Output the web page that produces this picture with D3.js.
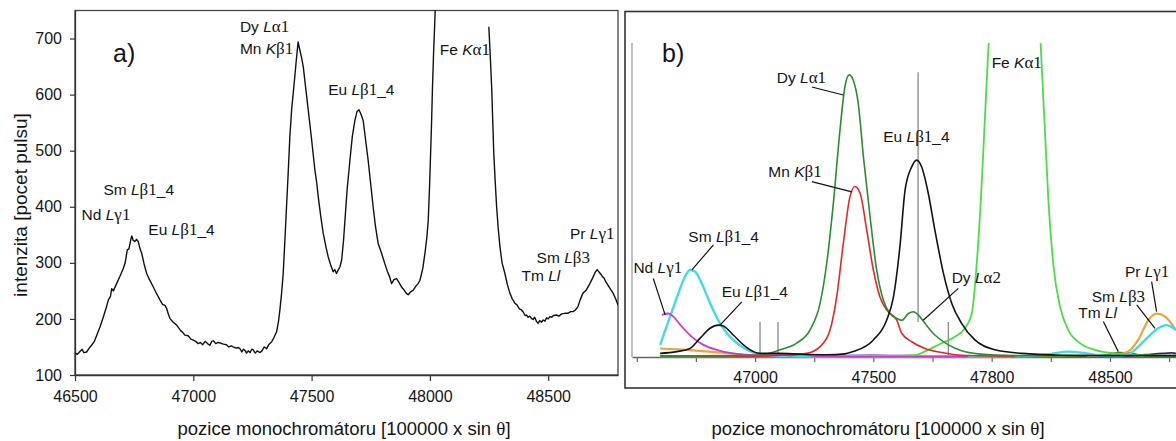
<!DOCTYPE html>
<html>
<head>
<meta charset="utf-8">
<script src="https://cdn.jsdelivr.net/npm/d3@7"></script>
<style>
  body { margin: 0; background: #fff; }
  svg { display: block; }
  text { font-family: "Liberation Sans", Arial, sans-serif; fill: #151515; white-space: pre; }
</style>
</head>
<body>
<svg id="chart" width="1176" height="441"></svg>
<script>
// ---------- Panel a: measured WDS scan (position, counts) ----------
const scanA = [
  [46500,139],[46510,137],[46521,142],[46530,146],[46537,140],[46549,141],[46560,148],[46570,153],
  [46582,160],[46592,171],[46606,186],[46620,204],[46632,220],[46641,234],[46650,240],[46655,254],
  [46662,250],[46676,263],[46690,276],[46704,290],[46712,300],[46721,323],[46728,325],[46734,338],
  [46740,348],[46746,340],[46753,338],[46760,342],[46767,338],[46775,325],[46782,317],[46792,298],
  [46803,281],[46815,270],[46831,257],[46845,245],[46859,234],[46870,226],[46880,224],[46887,219],
  [46895,208],[46901,201],[46915,194],[46930,189],[46945,180],[46955,176],[46965,171],[46978,170],
  [46990,164],[47000,162],[47010,160],[47021,156],[47030,158],[47040,154],[47050,160],[47060,156],
  [47070,153],[47078,160],[47085,161],[47095,156],[47105,158],[47115,157],[47127,155],[47140,154],
  [47150,150],[47160,152],[47169,150],[47180,148],[47190,149],[47197,147],[47205,141],[47212,146],
  [47220,143],[47225,139],[47232,143],[47240,140],[47247,146],[47253,145],[47262,139],[47270,143],
  [47282,140],[47290,143],[47300,150],[47310,147],[47320,155],[47331,159],[47340,166],[47352,177],
  [47360,195],[47366,216],[47373,245],[47380,281],[47387,340],[47394,400],[47401,460],[47408,525],
  [47416,575],[47425,614],[47435,660],[47443,694],[47450,680],[47458,665],[47465,649],[47475,612],
  [47486,572],[47500,520],[47514,465],[47521,445],[47528,418],[47538,385],[47549,353],[47560,330],
  [47570,311],[47580,297],[47591,284],[47598,288],[47605,281],[47612,287],[47620,293],[47627,305],
  [47635,340],[47641,376],[47650,430],[47662,483],[47672,525],[47683,554],[47692,570],[47700,573],
  [47708,566],[47718,554],[47728,520],[47739,483],[47750,440],[47760,400],[47770,365],[47781,335],
  [47795,318],[47809,299],[47820,285],[47830,275],[47838,263],[47848,270],[47859,272],[47868,266],
  [47880,257],[47890,252],[47900,246],[47908,243],[47918,248],[47929,251],[47940,258],[47950,263],
  [47958,269],[47970,290],[47979,317],[47987,345],[47993,376],[47998,430],[48003,495],[48007,550],
  [48011,614],[48016,680],[48021,733],[48026,800],
  null,
  [48249,721],[48255,670],[48261,614],[48270,495],[48276,445],[48282,400],[48289,360],[48296,329],
  [48305,300],[48317,281],[48327,262],[48338,246],[48348,236],[48359,228],[48368,225],[48378,218],
  [48387,216],[48395,212],[48402,206],[48408,207],[48415,203],[48422,205],[48429,201],[48436,199],
  [48443,203],[48450,196],[48457,192],[48464,197],[48471,194],[48479,198],[48486,196],[48493,202],
  [48500,200],[48507,204],[48515,203],[48522,206],[48535,207],[48545,205],[48557,209],[48570,210],
  [48582,210],[48595,213],[48605,213],[48615,216],[48626,222],[48635,234],[48647,246],[48660,251],
  [48676,263],[48690,275],[48700,284],[48707,288],[48714,284],[48722,280],[48730,275],[48736,273],
  [48745,265],[48753,260],[48763,253],[48774,246],[48785,236],[48795,225]
];
const ticksAX = [46500, 47000, 47500, 48000, 48500];
const ticksAY = [100, 200, 300, 400, 500, 600, 700];

// line labels of panel a: [text, position, counts]
const labelsA = [
  ["Dy Lα1", 47197, 711], ["Mn Kβ1", 47197, 672],
  ["Sm Lβ1_4", 46620, 421], ["Nd Lγ1", 46528, 377], ["Eu Lβ1_4", 46810, 349],
  ["Eu Lβ1_4", 47570, 599], ["Fe Kα1", 48042, 670],
  ["Pr Lγ1", 48592, 342], ["Sm Lβ3", 48451, 300], ["Tm Ll", 48387, 267]
];

// ---------- Panel b: fitted line profiles (position, intensity) ----------
const smB = [[46599,27],[46641,90],[46676,142],[46704,179],[46725,194],[46747,190],[46775,164],[46810,120],
  [46852,75],[46894,45],[46944,23],[46993,10],[47049,4],[47134,2],[47400,1],[47800,1],[48150,2],[48250,7],
  [48320,12],[48390,9],[48460,3],[48530,2],[48580,6],[48605,16],[48662,45],[48704,64],[48739,71],[48779,60]];
const ndB = [[46606,94],[46634,97],[46655,90],[46690,68],[46733,45],[46782,27],[46838,16],[46908,8],
  [46993,4],[47050,4],[47092,6],[47150,3],[47190,6],[47260,2],[47400,1],[47700,1],[47900,1]];
const euB = [[46599,8],[46669,12],[46725,19],[46768,42],[46810,64],[46845,71],[46866,69],[46908,49],
  [46951,27],[46993,12],[47021,8],[47100,8],[47200,6],[47300,5],[47380,7],[47415,12],[47500,38],
  [47556,82],[47585,134],[47613,250],[47634,372],[47662,424],[47683,439],[47704,424],[47732,365],
  [47760,283],[47796,187],[47831,120],[47873,75],[47929,38],[48014,16],[48127,8],[48296,4],
  [48500,3],[48700,3],[48779,3]];
const dyB = [[46600,2],[46900,3],[47021,4],[47106,16],[47176,31],[47232,60],[47275,120],[47303,209],
  [47331,343],[47359,506],[47380,603],[47398,629],[47415,617],[47436,566],[47458,446],[47486,313],
  [47514,194],[47542,127],[47570,97],[47599,86],[47620,82],[47648,97],[47669,101],[47690,94],
  [47718,75],[47760,49],[47817,27],[47873,14],[47943,7],[48100,3],[48400,2]];
const mnB = [[46600,1],[47000,1],[47106,4],[47218,8],[47275,23],[47317,60],[47345,134],[47373,253],
  [47401,357],[47422,380],[47444,365],[47472,283],[47500,194],[47528,134],[47556,105],[47599,82],
  [47620,53],[47662,34],[47718,19],[47789,10],[47873,4],[48100,2]];
const feB = [[46600,1],[47300,1],[47591,2],[47676,4],[47732,16],[47789,31],[47845,45],[47887,64],
  [47916,97],[47937,209],[47955,357],[47969,506],[47983,655],[47998,790],[48030,900],[48100,950],
  [48170,900],[48198,790],[48211,655],[48225,506],[48239,357],[48260,209],[48289,112],[48324,60],
  [48373,31],[48436,16],[48521,8],[48634,4],[48779,3]];
const prB = [[46599,19],[46711,16],[46852,10],[46993,4],[47200,2],[48000,2],[48500,3],[48577,12],
  [48619,38],[48662,82],[48697,97],[48733,90],[48779,60]];
const tmB = [[48200,1],[48400,2],[48480,5],[48540,10],[48590,8],[48650,3],[48779,2]];
const navyB = [[46600,2],[47000,2],[47300,3],[47500,4],[47650,3],[47800,2],[48000,1]];
const yellowB = [[47500,2],[47700,3],[47850,2],[48000,1]];
const violetB = [[48500,2],[48650,5],[48720,8],[48760,9],[48779,8]];

const seriesB = [
  { data: navyB,   color: "#1f2a8c", width: 1.6 },
  { data: yellowB, color: "#e6dc2a", width: 1.6 },
  { data: violetB, color: "#4e1a6e", width: 1.8 },
  { data: tmB,     color: "#2f7f2f", width: 1.6 },
  { data: prB,     color: "#efa23a", width: 2.2 },
  { data: feB,     color: "#4cdc48", width: 1.8 },
  { data: smB,     color: "#3fdbe6", width: 2.4 },
  { data: ndB,     color: "#c83cc8", width: 1.8 },
  { data: mnB,     color: "#de2a2a", width: 1.6 },
  { data: dyB,     color: "#2c8c30", width: 1.6 },
  { data: euB,     color: "#141414", width: 1.6 }
];

const ticksBX = [46500, 46750, 47000, 47250, 47500, 47750, 48000, 48250, 48500, 48750];
const tickLabelsBX = ["", "", "47000", "", "47500", "", "47800", "", "48500", ""];
// reference line markers: [position, from, to]
const markersB = [[47021, 0, 78], [47097, 0, 78], [47689, 78, 635], [47817, 0, 78]];

// line labels of panel b: [text, x, y, leader x1, y1, x2, y2]
const labelsB = [
  ["Dy Lα1", 47092, 610, 47240, 602, 47373, 584],
  ["Mn Kβ1", 47056, 402, 47240, 391, 47409, 368],
  ["Sm Lβ1_4", 46718, 256, 46824, 250, 46733, 194],
  ["Nd Lγ1", 46486, 187, 46570, 175, 46620, 94],
  ["Eu Lβ1_4", 46859, 134, 46944, 123, 46852, 71],
  ["Eu Lβ1_4", 47542, 480, null, null, null, null],
  ["Fe Kα1", 48000, 644, null, null, null, null],
  ["Dy Lα2", 47831, 164, 47859, 153, 47711, 82],
  ["Pr Lγ1", 48563, 179, 48676, 168, 48697, 101],
  ["Sm Lβ3", 48423, 123, 48613, 116, 48690, 64],
  ["Tm Ll", 48366, 86, 48472, 79, 48535, 12]
];

const svg = d3.select("#chart");

// Spectroscopic label: element symbol, italic line letters, serif greek letter
function lineLabel(g, str, x, y, size) {
  const t = g.append("text").attr("x", x).attr("y", y).attr("font-size", size);
  const sp = str.indexOf(" ");
  t.append("tspan").text(str.slice(0, sp + 1));
  const rest = str.slice(sp + 1);
  let i = 0;
  while (i < rest.length) {
    const ch = rest[i];
    if (/[A-Za-z]/.test(ch)) {
      let j = i; while (j < rest.length && /[A-Za-z]/.test(rest[j])) j++;
      t.append("tspan").attr("font-style", "italic").text(rest.slice(i, j)); i = j;
    } else if (/[\u0370-\u03ff]/.test(ch)) {
      let j = i + 1; if (j < rest.length && /\d/.test(rest[j])) j++;
      t.append("tspan").attr("font-family", "'Liberation Serif', 'DejaVu Serif', serif")
        .attr("font-size", size * 1.1).text(rest.slice(i, j)); i = j;
    } else {
      t.append("tspan").text(rest.slice(i)); break;
    }
  }
  return t;
}

function styleAxis(g, color) {
  g.selectAll("path.domain").attr("stroke", color).attr("stroke-width", 1.3);
  g.selectAll(".tick line").attr("stroke", color).attr("stroke-width", 1.2);
  g.selectAll(".tick text").attr("font-family", "'Liberation Sans', Arial, sans-serif")
    .attr("font-size", 16).attr("fill", "#151515");
}

// ================= Panel a =================
const xA = d3.scaleLinear().domain([46500, 48795]).range([75, 618]);
const yA = d3.scaleLinear().domain([100, 750]).range([375, 10.5]);

svg.append("defs").append("clipPath").attr("id", "clipA")
  .append("rect").attr("x", 75).attr("y", 10.5).attr("width", 543).attr("height", 364.5);

const gA = svg.append("g");
gA.append("rect").attr("x", 75).attr("y", 10.5).attr("width", 543).attr("height", 364.5)
  .attr("fill", "none").attr("stroke", "#444").attr("stroke-width", 1.3);

const axA = gA.append("g").attr("transform", "translate(0,375)")
  .call(d3.axisBottom(xA).tickValues(ticksAX).tickFormat(d3.format("d")).tickSize(6).tickPadding(10).tickSizeOuter(0));
styleAxis(axA, "#333");
const ayA = gA.append("g").attr("transform", "translate(75,0)")
  .call(d3.axisLeft(yA).tickValues(ticksAY).tickSize(5).tickPadding(8).tickSizeOuter(0));
styleAxis(ayA, "#333");

const lineA = d3.line().defined(d => d !== null).x(d => xA(d[0])).y(d => yA(d[1]));
gA.append("path").datum(scanA).attr("clip-path", "url(#clipA)")
  .attr("d", lineA).attr("fill", "none").attr("stroke", "#111").attr("stroke-width", 1.4)
  .attr("stroke-linejoin", "round");

labelsA.forEach(l => lineLabel(gA, l[0], xA(l[1]), yA(l[2]), 15.5));
gA.append("text").attr("x", 113).attr("y", 62).attr("font-size", 25).text("a)");

gA.append("text").attr("transform", "translate(20,205) rotate(-90)")
  .attr("text-anchor", "middle").attr("dominant-baseline", "central")
  .attr("font-size", 19).text("intenzita [pocet pulsu]");

function xTitle(g, cx) {
  const t = g.append("text").attr("x", cx).attr("y", 435).attr("text-anchor", "middle").attr("font-size", 18.5);
  t.append("tspan").text("pozice monochromátoru [100000 x sin ");
  t.append("tspan").attr("font-family", "'Liberation Serif', serif").attr("font-size", 19).text("θ");
  t.append("tspan").text("]");
}
xTitle(gA, 344);

// ================= Panel b =================
const xB = d3.scaleLinear().domain([46480, 48779]).range([632, 1176]);
const yB = d3.scaleLinear().domain([0, 700]).range([357, 43]);

svg.select("defs").append("clipPath").attr("id", "clipB")
  .append("rect").attr("x", 632).attr("y", 43).attr("width", 544).attr("height", 316);

const gB = svg.append("g");
gB.append("rect").attr("x", 625).attr("y", 11.5).attr("width", 570).attr("height", 376.5)
  .attr("fill", "none").attr("stroke", "#333").attr("stroke-width", 1.6);

gB.append("line").attr("x1", 632).attr("x2", 632).attr("y1", yB(700)).attr("y2", yB(0))
  .attr("stroke", "#a8a8a8").attr("stroke-width", 1.4);

const axB = gB.append("g").attr("transform", `translate(0,${yB(0)})`)
  .call(d3.axisBottom(xB).tickValues(ticksBX).tickFormat((d, i) => tickLabelsBX[i])
    .tickSize(5).tickPadding(10).tickSizeOuter(0));
styleAxis(axB, "#666");

// reference markers
gB.selectAll("line.marker").data(markersB).join("line").attr("class", "marker")
  .attr("x1", d => xB(d[0])).attr("x2", d => xB(d[0]))
  .attr("y1", d => yB(d[1])).attr("y2", d => yB(d[2]))
  .attr("stroke", "#8a8a8a").attr("stroke-width", 1.3);

const lineB = d3.line().curve(d3.curveMonotoneX).x(d => xB(d[0])).y(d => yB(d[1]));
const curvesB = gB.append("g").attr("clip-path", "url(#clipB)");
seriesB.forEach(s => {
  curvesB.append("path").datum(s.data).attr("d", lineB).attr("fill", "none")
    .attr("stroke", s.color).attr("stroke-width", s.width).attr("stroke-linejoin", "round");
});

labelsB.forEach(l => {
  lineLabel(gB, l[0], xB(l[1]), yB(l[2]), 15.5);
  if (l[3] !== null) {
    gB.append("line").attr("x1", xB(l[3])).attr("y1", yB(l[4]))
      .attr("x2", xB(l[5])).attr("y2", yB(l[6]))
      .attr("stroke", "#111").attr("stroke-width", 1.2);
  }
});
gB.append("text").attr("x", 662).attr("y", 62).attr("font-size", 25).text("b)");

xTitle(svg, 878);
</script>
</body>
</html>
